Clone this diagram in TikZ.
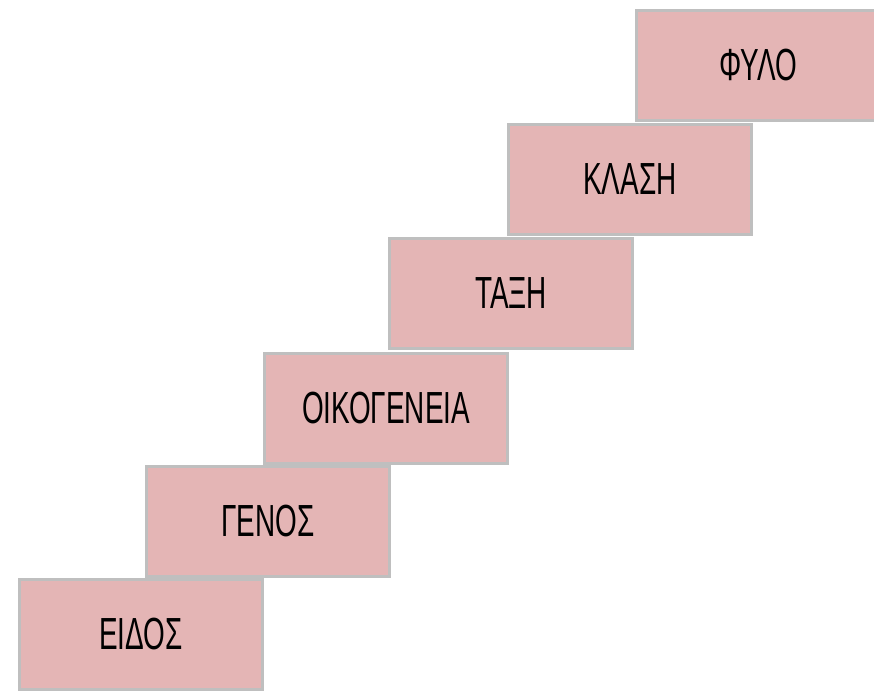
\documentclass[tikz,border=0pt]{standalone}
\usepackage{fontspec}
\setmainfont{Liberation Sans}
\definecolor{boxfill}{HTML}{E4B5B5}
\definecolor{boxline}{HTML}{BFBFBF}
\begin{document}
\begin{tikzpicture}[x=1pt,y=-1pt,
  stepbox/.style={draw=boxline, line width=2.5pt, fill=boxfill, anchor=north west,
    minimum width=243pt, minimum height=110pt, inner sep=0pt, outer sep=0pt,
    font=\fontsize{45}{45}\selectfont}]
\useasboundingbox (0,0) rectangle (874,692);
\clip (0,0) rectangle (874,692);
\node[stepbox] (fylo) at (636.5,10.5) {\scalebox{0.62}[1]{ΦΥΛΟ}};
\node[stepbox] (klasi) at (508.5,124.5) {\scalebox{0.62}[1]{ΚΛΑΣΗ}};
\node[stepbox] (taxi) at (389.5,238.5) {\scalebox{0.62}[1]{ΤΑΞΗ}};
\node[stepbox] (oikogeneia) at (264.5,353.5) {\scalebox{0.62}[1]{ΟΙΚΟΓΕΝΕΙΑ}};
\node[stepbox] (genos) at (146.5,466.5) {\scalebox{0.62}[1]{ΓΕΝΟΣ}};
\node[stepbox] (eidos) at (19.5,579.5) {\scalebox{0.62}[1]{ΕΙΔΟΣ}};
\end{tikzpicture}
\end{document}
